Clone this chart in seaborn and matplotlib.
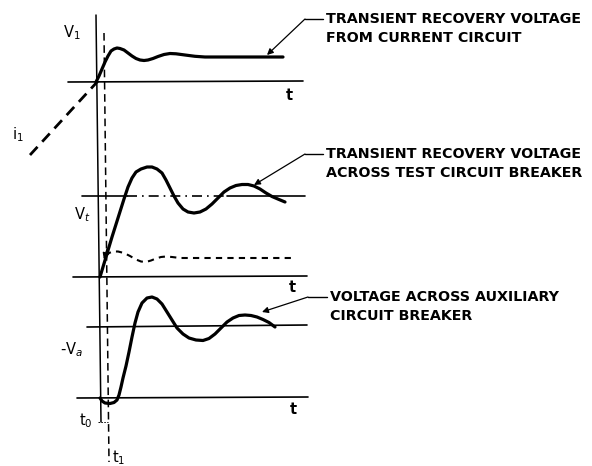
import matplotlib
matplotlib.use("Agg")
import matplotlib.pyplot as plt
import seaborn as sns
import pandas as pd

sns.set_theme(style="white")
plt.rcParams['font.family'] = ['DejaVu Sans']
plt.rcParams['mathtext.fontset'] = 'dejavusans'
plt.rcParams['text.color'] = 'black'

# ---- data (pixel-space sketch points) ----
v1_x = [96, 99, 102, 105, 108, 111, 114, 117, 120, 124, 128, 132, 136, 140, 144, 148,
        153, 158, 164, 170, 176, 185, 195, 205, 240, 283]
v1_y = [82, 76, 69, 62, 56, 51, 49, 48, 48.5, 50, 53, 56, 58.5, 60, 60.5, 60,
        58.5, 56.5, 54.5, 53.5, 53.8, 55, 56.3, 57, 57, 57]

i1_x = [30, 98]
i1_y = [155, 81]

vt_x = [100, 106, 112, 118, 124, 128, 132, 136, 141, 147, 152, 157, 162, 166, 170, 174,
        178, 183, 188, 194, 200, 206, 212, 218, 224, 230, 236, 242, 248, 254, 260, 266,
        272, 279, 285]
vt_y = [277, 257, 237, 218, 199, 187, 178, 172, 169, 167, 167, 169, 173, 180, 188, 196,
        203, 209, 212, 213, 212, 209, 204, 198, 192, 188, 185.5, 184.5, 184.5, 186, 189, 193,
        196.5, 199.5, 202]

vd_x = [106, 109, 113, 118, 124, 130, 136, 141, 146, 151, 156, 161, 166, 172, 180, 292]
vd_y = [256, 253, 251.5, 251.5, 253, 256, 259.5, 261.5, 262, 260.5, 258.5, 257, 256.5, 257, 258, 258]

va_x = [100, 102, 105, 110, 114, 117, 119, 121, 123, 126, 129, 132, 135, 138, 142, 147,
        152, 157, 162, 167, 172, 177, 183, 189, 196, 203, 209, 215, 221, 227, 233, 239,
        245, 251, 257, 263, 269, 275]
va_y = [398, 401, 403, 403.5, 402.5, 400, 395, 387, 378, 366, 352, 337, 323, 312, 303, 298,
        297, 299, 304, 312, 320, 328, 334, 338, 340, 340.5, 338.5, 334, 328, 322, 318, 315.5,
        315, 315.5, 317, 319.5, 322.5, 327]

labels_top = ["TRANSIENT RECOVERY VOLTAGE", "FROM CURRENT CIRCUIT"]
labels_mid = ["TRANSIENT RECOVERY VOLTAGE", "ACROSS TEST CIRCUIT BREAKER"]
labels_bot = ["VOLTAGE ACROSS AUXILIARY", "CIRCUIT BREAKER"]

fig = plt.figure(figsize=(5.92, 4.66), dpi=100)
ax = fig.add_axes([0, 0, 1, 1])
ax.set_xlim(0, 592)
ax.set_ylim(466, 0)
ax.axis('off')

K = 'black'
def curve(xs, ys, **kw):
    df = pd.DataFrame({'x': xs, 'y': ys})
    sns.lineplot(data=df, x='x', y='y', sort=False, estimator=None, ax=ax,
                 color=K, solid_joinstyle='round', solid_capstyle='round', **kw)

# curves
curve(v1_x, v1_y, linewidth=2.3)
curve(i1_x, i1_y, linewidth=2.0, linestyle=(0, (4, 2.5)))
curve(vt_x, vt_y, linewidth=2.3)
curve(vd_x, vd_y, linewidth=1.5, linestyle=(0, (3, 2.5)))
curve(va_x, va_y, linewidth=2.3)

# axes lines
lw = 1.2
ax.plot([68, 303], [82, 81], color=K, lw=lw)
ax.plot([73, 307], [277, 276], color=K, lw=lw)
ax.plot([77, 308], [398, 397], color=K, lw=lw)
ax.plot([87, 307], [327, 325], color=K, lw=lw)
# dash-dot level line in middle panel
ax.plot([82, 127], [196, 196], color=K, lw=lw)
ax.plot([127, 227], [196, 196], color=K, lw=lw, linestyle=(0, (6, 3, 1, 3)))
ax.plot([227, 305], [196, 196], color=K, lw=lw)

# vertical reference lines
ax.plot([96, 101], [15, 422], color=K, lw=1.1)
ax.plot([104, 109], [33, 462], color=K, lw=1.1, linestyle=(0, (5, 3)))
ax.plot([98, 108], [422, 422], color=K, lw=0.7, linestyle=(0, (1.5, 1.5)))

# arrowhead on rising line
ax.annotate('', xy=(103, 262), xytext=(108, 246),
            arrowprops=dict(arrowstyle='-|>', color=K, lw=1.0, mutation_scale=9))

# labels
fs = 10.5
ax.text(72, 33, r'V$_1$', fontsize=fs, ha='center', va='center', color=K)
ax.text(18, 135, r'i$_1$', fontsize=fs, ha='center', va='center', color=K)
ax.text(82, 215, r'V$_t$', fontsize=fs, ha='center', va='center', color=K)
ax.text(72, 350, r'-V$_a$', fontsize=fs, ha='center', va='center', color=K)
ax.text(86, 421, r't$_0$', fontsize=fs, ha='center', va='center', color=K)
ax.text(119, 458, r't$_1$', fontsize=fs, ha='center', va='center', color=K)
for tx, ty in [(289, 96), (292, 288), (293, 410)]:
    ax.text(tx, ty, 't', fontsize=fs, ha='center', va='center', fontweight='bold', color=K)

# callouts
tfs = 10.3
def callout(lines, tx, ty, leader_x0, tip):
    ax.plot([leader_x0, tx - 3], [ty, ty], color=K, lw=1.0)
    ax.annotate('', xy=tip, xytext=(leader_x0, ty),
                arrowprops=dict(arrowstyle='-|>', color=K, lw=0.9, mutation_scale=9,
                                shrinkA=0, shrinkB=0))
    for k, s in enumerate(lines):
        ax.text(tx, ty + k * 19, s, fontsize=tfs, ha='left', va='center',
                fontweight='bold', color=K)

callout(labels_top, 326, 19, 305, (267, 55))
callout(labels_mid, 326, 154, 305, (254, 185))
callout(labels_bot, 330, 297, 308, (262, 312))

fig.savefig('out.png', dpi=100)
